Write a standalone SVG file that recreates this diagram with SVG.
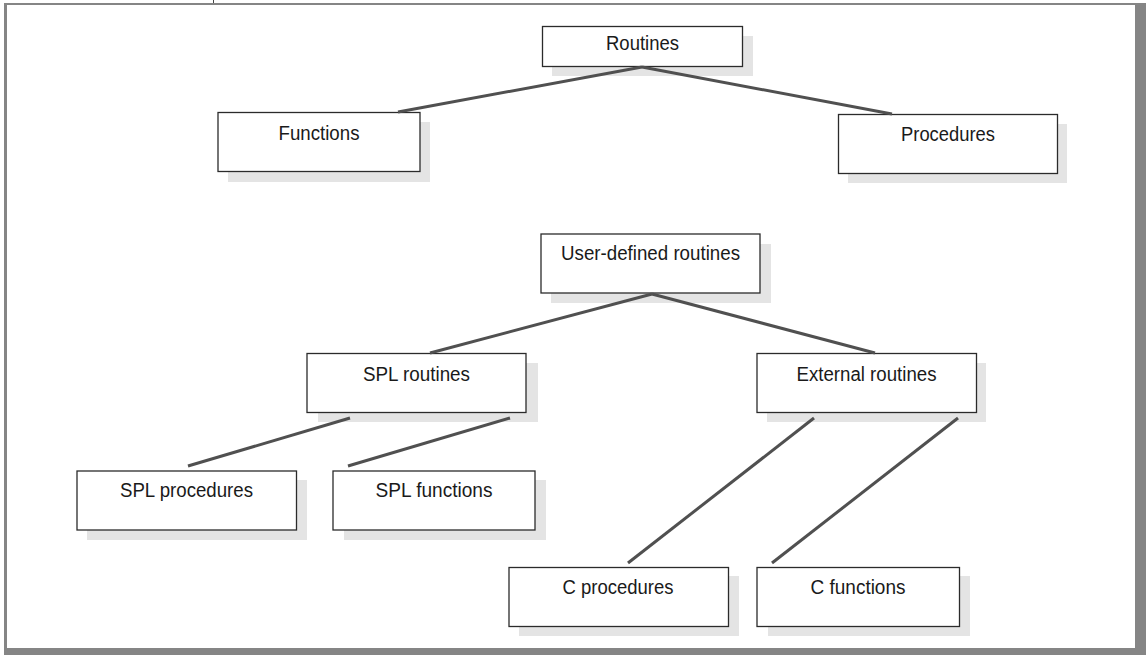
<svg xmlns="http://www.w3.org/2000/svg" width="1146" height="655" viewBox="0 0 1146 655">
<style>
.shadow{fill:#e4e4e4;stroke:none}
.box{fill:#ffffff;stroke:#2b2b2b;stroke-width:1.3}
.lbl{font-family:"Liberation Sans",Arial,sans-serif;font-size:19.5px;fill:#1a1a1a;text-anchor:middle}
.conn line{stroke:#505050;stroke-width:3;stroke-linecap:butt}
</style>
<rect x="0" y="0" width="1146" height="655" fill="#ffffff"/>
<g id="frame">
<rect x="4" y="3" width="1142" height="652" fill="#858585"/>
<rect x="7" y="5" width="1128" height="643" fill="#ffffff"/>
<line x1="213.5" y1="0" x2="213.5" y2="3" stroke="#444" stroke-width="1"/>
</g>
<g id="routines">
<rect class="shadow" x="552" y="36" width="201" height="40"/>
<rect class="box" x="542.5" y="26.5" width="200" height="40"/>
<text class="lbl" x="642.5" y="49.5" textLength="73" lengthAdjust="spacingAndGlyphs">Routines</text>
</g>
<g id="functions">
<rect class="shadow" x="228" y="122" width="202" height="60"/>
<rect class="box" x="218" y="112.5" width="202" height="59"/>
<text class="lbl" x="319" y="139.5" textLength="81" lengthAdjust="spacingAndGlyphs">Functions</text>
</g>
<g id="procedures">
<rect class="shadow" x="848" y="124" width="219" height="59"/>
<rect class="box" x="838.5" y="114.5" width="219" height="59"/>
<text class="lbl" x="948" y="140.5" textLength="94" lengthAdjust="spacingAndGlyphs">Procedures</text>
</g>
<g id="user-defined-routines">
<rect class="shadow" x="551" y="244" width="220" height="59"/>
<rect class="box" x="541" y="234" width="219" height="59"/>
<text class="lbl" x="650.5" y="260" textLength="179" lengthAdjust="spacingAndGlyphs">User-defined routines</text>
</g>
<g id="spl-routines">
<rect class="shadow" x="318" y="363" width="220" height="59"/>
<rect class="box" x="307" y="353.5" width="219" height="59"/>
<text class="lbl" x="416.5" y="380.5" textLength="107" lengthAdjust="spacingAndGlyphs">SPL routines</text>
</g>
<g id="external-routines">
<rect class="shadow" x="767" y="363" width="219" height="59"/>
<rect class="box" x="757" y="353.5" width="219.5" height="59"/>
<text class="lbl" x="866.5" y="380.5" textLength="140" lengthAdjust="spacingAndGlyphs">External routines</text>
</g>
<g id="spl-procedures">
<rect class="shadow" x="87" y="480" width="220" height="60"/>
<rect class="box" x="77" y="471" width="219.5" height="59"/>
<text class="lbl" x="186.5" y="497" textLength="133" lengthAdjust="spacingAndGlyphs">SPL procedures</text>
</g>
<g id="spl-functions">
<rect class="shadow" x="344" y="480" width="202" height="60"/>
<rect class="box" x="333" y="471" width="202" height="59"/>
<text class="lbl" x="434" y="497" textLength="117" lengthAdjust="spacingAndGlyphs">SPL functions</text>
</g>
<g id="c-procedures">
<rect class="shadow" x="519" y="576" width="220" height="60"/>
<rect class="box" x="509" y="567.5" width="219.5" height="59"/>
<text class="lbl" x="618" y="594" textLength="111" lengthAdjust="spacingAndGlyphs">C procedures</text>
</g>
<g id="c-functions">
<rect class="shadow" x="768" y="576" width="202" height="60"/>
<rect class="box" x="757" y="567.5" width="202.5" height="59"/>
<text class="lbl" x="858" y="594" textLength="95" lengthAdjust="spacingAndGlyphs">C functions</text>
</g>
<g id="connectors" class="conn">
<line x1="642" y1="67" x2="398" y2="112"/>
<line x1="642" y1="67" x2="892" y2="114"/>
<line x1="652" y1="294" x2="430" y2="353"/>
<line x1="652" y1="294" x2="875" y2="353"/>
<line x1="350" y1="418" x2="188" y2="466"/>
<line x1="510" y1="418" x2="348" y2="466"/>
<line x1="814" y1="418" x2="628" y2="563"/>
<line x1="958" y1="418" x2="772" y2="563"/>
</g>
</svg>
